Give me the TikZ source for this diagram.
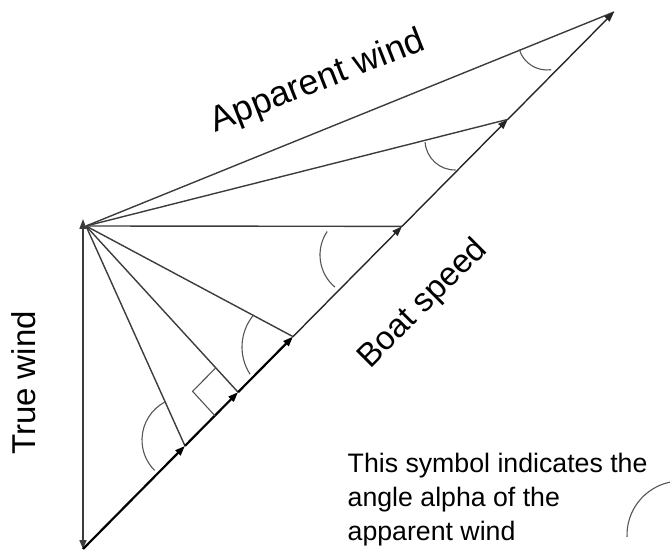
\documentclass[tikz,border=0pt]{standalone}
\usepackage{fontspec}
\setmainfont{Liberation Sans}
\usetikzlibrary{arrows.meta,calc}
\definecolor{linegray}{HTML}{3C3C3C}
\definecolor{arcgray}{HTML}{555555}
\begin{document}
\begin{tikzpicture}[x=1pt,y=1pt,
  vec/.style={line width=1.4pt, draw=linegray},
  tipend/.style={-{Triangle[length=10pt,width=7pt]}},
  boatthick/.style={line width=2.2pt, draw=black},
  boatthin/.style={line width=1.4pt, draw=black!85},
  ang/.style={line width=1.1pt, draw=arcgray},
  lbl/.style={font=\fontsize{33}{33}\selectfont, inner sep=0pt},
  note/.style={font=\fontsize{26.7}{33}\selectfont, inner sep=0pt, anchor=base west}]
\useasboundingbox (0,0) rectangle (670,-553);
% main points
\coordinate (B) at (83,-549);
\coordinate (C) at (614,-12);
\coordinate (T) at (83,-219);
\coordinate (A) at (86,-226);
\coordinate (P1) at ($(B)!0.192!(C)$);
\coordinate (P2) at ($(B)!0.292!(C)$);
\coordinate (P3) at ($(B)!0.3955!(C)$);
\coordinate (P4) at ($(B)!0.6008!(C)$);
\coordinate (P5) at ($(B)!0.800!(C)$);
% true wind
\draw[vec, line width=1.6pt, {Triangle[length=9pt,width=7pt]}-{Triangle[length=10pt,width=7pt]}] (B) -- (T);
% apparent wind lines
\draw[vec] (A) -- (P1);
\draw[vec] (A) -- (P2);
\draw[vec] (A) -- (P3);
\draw[vec] (A) -- (P4);
\draw[vec] (A) -- (P5);
\draw[vec] (A) -- (C);
% boat speed
\draw[boatthick, tipend] (B) -- (P1);
\draw[boatthick, tipend] (P1) -- (P2);
\draw[boatthick, tipend] (P2) -- (P3);
\draw[boatthin, tipend] (P3) -- (P4);
\draw[boatthin, tipend] (P4) -- (P5);
\draw[boatthin, tipend] (P5) -- (C);
% right angle mark
\coordinate (Q1) at ($(P2)!33pt!(A)$);
\coordinate (Q2) at ($(P2)!33pt!(B)$);
\draw[ang] (Q1) -- ($(Q1)+(Q2)-(P2)$) -- (Q2);
% angle arcs
\draw[ang] ([shift={(118:43)}]185,-440) arc[start angle=118, end angle=225, radius=43];
\draw[ang] ([shift={(140:50)}]292,-347) arc[start angle=140, end angle=213, radius=50];
\draw[ang] ([shift={(146:42)}]362,-255) arc[start angle=146, end angle=230, radius=42];
\draw[ang] ([shift={(184:30)}]455,-140) arc[start angle=184, end angle=271, radius=30];
\draw[ang] ([shift={(197:29)}]547,-41) arc[start angle=197, end angle=278, radius=29];
% legend arc
\draw[ang] ([shift={(102:54)}]681,-535) arc[start angle=102, end angle=182, radius=54];
% labels
\node[lbl, font=\fontsize{35.5}{35.5}\selectfont, rotate=21.5] (aw) at (318,-82) {Apparent wind};
\node[lbl, rotate=45] (bs) at (423,-304) {Boat speed};
\node[lbl, rotate=90] (tw) at (24,-383) {True wind};
\node[note] (n1) at (347.5,-473) {This symbol indicates the};
\node[note] (n2) at (347.5,-507) {angle alpha of the};
\node[note] (n3) at (347.5,-540) {apparent wind};
\end{tikzpicture}
\end{document}
